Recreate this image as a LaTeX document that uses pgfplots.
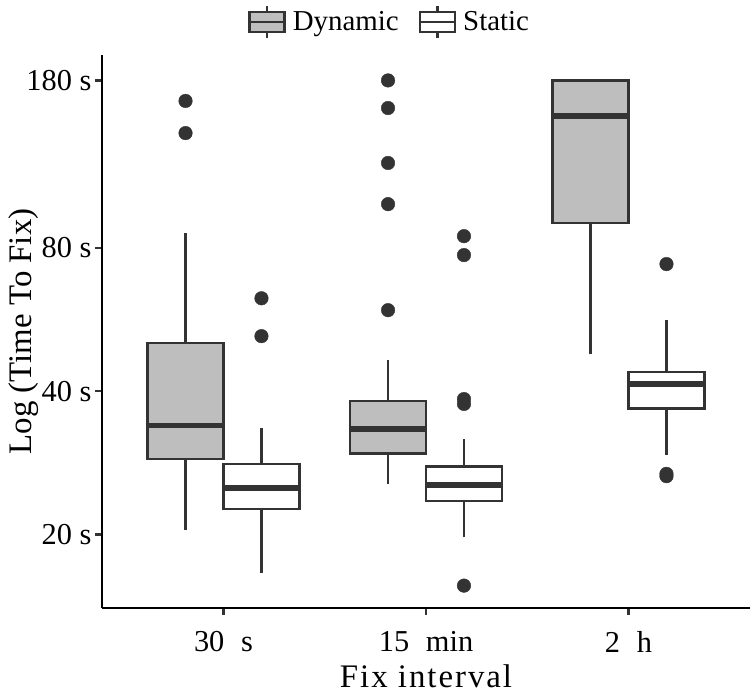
\documentclass[border=0pt]{standalone}
\usepackage{pgfplots}
\pgfplotsset{compat=1.18}
\usepackage{fontspec}
\setmainfont{Liberation Serif}
\definecolor{c333}{HTML}{333333}
\definecolor{boxgray}{HTML}{BEBEBE}
\pgfplotsset{
  outl/.style={only marks, mark=*, mark size=6.8bp, c333, forget plot},
  boxleg/.style={legend image code/.code={
    \draw[c333, line width=2.5bp, fill=#1] (0bp,-10bp) rectangle (35bp,10bp);
    \draw[c333, line width=2.5bp] (0bp,0bp) -- (35bp,0bp);
    \draw[c333, line width=2.5bp] (17.5bp,10bp) -- (17.5bp,16bp);
    \draw[c333, line width=2.5bp] (17.5bp,-10bp) -- (17.5bp,-16bp);
    \path (41bp,0bp);
  }},
}
% #1 left, #2 centre, #3 right, #4 fill, #5 lower whisker, #6 Q1, #7 median, #8 Q3, #9 upper whisker
\newcommand{\bx}[9]{%
  \addplot[c333, line width=2.5bp, forget plot] coordinates {(#2,#5) (#2,#6)};
  \addplot[c333, line width=2.5bp, forget plot] coordinates {(#2,#8) (#2,#9)};
  \addplot[draw=c333, fill=#4, line width=2.5bp, forget plot] coordinates {(#1,#6) (#3,#6) (#3,#8) (#1,#8)} -- cycle;
  \addplot[c333, line width=5.5bp, forget plot] coordinates {(#1,#7) (#3,#7)};
}
\begin{document}
\begin{tikzpicture}
\useasboundingbox (-102bp,-92bp) rectangle (648bp,608bp);
\begin{axis}[
  at={(0,0)}, anchor=south west,
  scale only axis, width=648bp, height=553bp,
  ymode=log, ymin=14, ymax=203.6, xmin=0.4, xmax=3.6,
  axis x line=bottom, axis y line=left,
  axis line style={-, black, line width=2.5bp},
  xtick={1,2,3}, xticklabels={30\hspace{0.55em}s, 15\hspace{0.55em}min, 2\hspace{0.55em}h},
  ytick={20,40,80,180}, yticklabels={20 s, 40 s, 80 s, 180 s},
  yminorticks=false, xminorticks=false,
  tick align=outside, major tick length=7bp,
  tick style={c333, line width=2.5bp},
  ticklabel style={font=\fontsize{30.5}{32}\selectfont, text=black},
  xticklabel style={yshift=-13bp},
  xlabel={Fix interval}, ylabel={Log (Time To Fix)},
  label style={font=\fontsize{33}{36}\selectfont},
  xlabel style={yshift=-8bp, inner sep=1bp, font=\addfontfeatures{LetterSpace=6}\fontsize{33}{36}\selectfont},
  ylabel shift=-19bp,
  legend columns=2,
  legend style={draw=none, fill=none, at={(0.444,1.06)}, anchor=center,
    font=\fontsize{29}{30}\selectfont,
    /tikz/every even column/.append style={column sep=18bp}},
  legend cell align=left,
  clip=false,
]
\addlegendimage{boxleg=boxgray}
\addlegendentry{Dynamic}
\addlegendimage{boxleg=white}
\addlegendentry{Static}

% 30 s
\bx{0.625}{0.8125}{1.0}{boxgray}{20.4}{28.8}{33.9}{50.5}{86}
\addplot[outl] coordinates {(0.8125,163) (0.8125,139.5)};
\bx{1.0}{1.1875}{1.375}{white}{16.6}{22.6}{25.0}{28.1}{33.4}
\addplot[outl] coordinates {(1.1875,62.7) (1.1875,52.2)};

% 15 min
\bx{1.625}{1.8125}{2.0}{boxgray}{25.5}{29.6}{33.3}{38.1}{46.5}
\addplot[outl] coordinates {(1.8125,180) (1.8125,157.5) (1.8125,120.7) (1.8125,98.9) (1.8125,59.2)};
\bx{2.0}{2.1875}{2.375}{white}{19.7}{23.5}{25.4}{27.8}{31.7}
\addplot[outl] coordinates {(2.1875,84.7) (2.1875,77.3) (2.1875,38.5) (2.1875,37.6) (2.1875,15.6)};

% 2 h
\bx{2.625}{2.8125}{3.0}{boxgray}{47.8}{90.2}{151.5}{180}{180}
\bx{3.0}{3.1875}{3.375}{white}{29.3}{36.8}{41.4}{43.9}{56.4}
\addplot[outl] coordinates {(3.1875,74.0) (3.1875,26.8) (3.1875,26.5)};
\end{axis}
\end{tikzpicture}
\end{document}
